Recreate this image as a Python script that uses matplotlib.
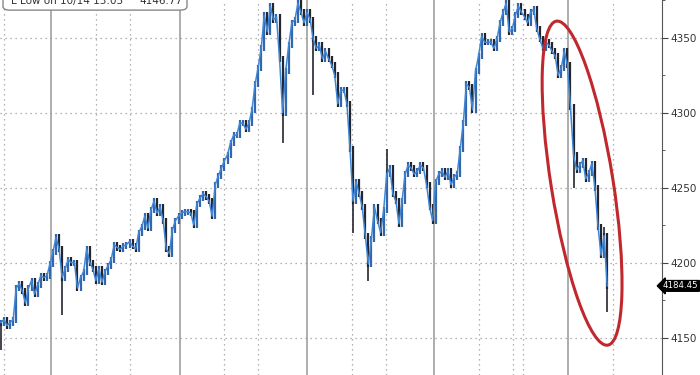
import numpy as np
import matplotlib
matplotlib.use("Agg")
import matplotlib.pyplot as plt
from matplotlib.patches import Ellipse, FancyBboxPatch
from matplotlib.transforms import ScaledTranslation, blended_transform_factory

# closing prices, one per bar
closes = [
    4160, 4162, 4158, 4160, 4162, 4183, 4186, 4181, 4173, 4183,
    4188, 4179, 4185, 4191, 4190, 4191, 4199, 4207, 4217, 4209,
    4190, 4196, 4202, 4200, 4200, 4183, 4190, 4194, 4209, 4200,
    4196, 4188, 4196, 4187, 4194, 4198, 4202, 4212, 4210, 4209,
    4211, 4212, 4214, 4211, 4209, 4220, 4224, 4231, 4223, 4235,
    4241, 4233, 4237, 4228, 4209, 4206, 4222, 4228, 4231, 4233,
    4234, 4234, 4233, 4225, 4239, 4243, 4246, 4244, 4241, 4231,
    4252, 4258, 4263, 4268, 4272, 4280, 4285,
    4285, 4293, 4293, 4289, 4293, 4302, 4319, 4330, 4343, 4365,
    4354, 4371, 4362, 4364, 4336, 4300, 4328, 4345, 4360, 4362,
    4373, 4367, 4360, 4367, 4362, 4349, 4343, 4345, 4336, 4341,
    4336, 4332, 4325, 4306, 4315, 4315, 4306, 4276, 4241, 4254,
    4246, 4237, 4218, 4199, 4216, 4237, 4228, 4220, 4235, 4259,
    4263, 4246, 4241, 4226, 4241, 4259, 4265, 4263, 4259, 4261,
    4265, 4263, 4252, 4237, 4228, 4254, 4259, 4261, 4257, 4261,
    4252, 4257, 4259, 4276, 4293, 4319, 4317, 4302, 4328, 4338,
    4351, 4347, 4347, 4347, 4343, 4349, 4360, 4367, 4373, 4354,
    4356, 4365, 4371, 4367, 4364, 4360, 4367, 4369, 4356, 4349,
    4343, 4347, 4345, 4341, 4338, 4325, 4330, 4341, 4332,
    4304, 4272, 4262, 4265, 4268, 4256, 4260, 4266, 4250, 4224,
    4205, 4218, 4184.45,
]

# long wicks that stick out of the close path
wick_bar = [0, 20, 92, 102, 115, 120, 126, 187, 197, 198]
wick_val = [4142, 4165, 4280, 4312, 4220, 4188, 4276, 4250, 4224, 4167]

# session separators (bar positions)
solid_lines = [16.3, 58.4, 99.8, 141.6, 185.3]
dotted_lines = [1, 31, 42, 72.7, 83.8, 114.5, 125.6, 156.2, 167.3, 170.6, 200]

y_ticks = [4150, 4200, 4250, 4300, 4350]
last_price = closes[-1]
legend_label = "L Low on 10/14 13:05"
legend_value = "4146.77"

fig = plt.figure(figsize=(7, 3.75), dpi=100)
ax = fig.add_axes([0, 0, 662 / 700, 1])

x = np.arange(len(closes))
c = np.array(closes, dtype=float)
prev = np.concatenate([[c[0]], c[:-1]])
lo = np.minimum(prev, c) - 2
hi = np.maximum(prev, c) + 2
cols = np.where(c >= prev, "#3266ad", "#23262e")

# grid
for gx in dotted_lines:
    ax.axvline(gx, color="#9a9a9a", lw=0.9, ls=(0, (1, 3)), zorder=0)
for gx in solid_lines:
    ax.axvline(gx, color="#a0a0a0", lw=1.2, zorder=0)
for gy in y_ticks:
    ax.axhline(gy, color="#9a9a9a", lw=0.9, ls=(0, (1, 3)), zorder=0)

# bars + wicks + close line
ax.vlines(x, lo, hi, colors=cols, lw=1.6, zorder=2)
for i, v in zip(wick_bar, wick_val):
    ax.vlines(i, min(v, c[i]), max(v, c[i]), colors="#23262e", lw=1.2, zorder=2)
ax.plot(x, c, color="#3f86d6", lw=1.1, zorder=3)

ax.set_xlim(-0.3, 215.9)
ax.set_ylim(4132.5, 4375.2)

# right axis
ax.yaxis.tick_right()
ax.set_yticks(y_ticks)
ax.set_yticks(np.arange(4125, 4376, 25), minor=True)
ax.tick_params(axis="y", which="major", length=4, color="#444", labelsize=7.5,
               labelcolor="#333", pad=2)
ax.tick_params(axis="y", which="minor", length=2.5, color="#444")
ax.set_xticks([])
for s in ["top", "left", "bottom"]:
    ax.spines[s].set_visible(False)
ax.spines["right"].set_color("#555")

# last price tag, right-aligned to the figure edge
tag_tr = blended_transform_factory(fig.transFigure, ax.transData)
ax.text(698.5 / 700, last_price, f"{last_price:.2f}", transform=tag_tr,
        ha="right", va="center", fontsize=6.2, color="white",
        bbox=dict(boxstyle="larrow,pad=0.1", fc="black", ec="black"),
        clip_on=False, zorder=6)

# red ellipse highlighting the sell-off
tr = fig.dpi_scale_trans + ScaledTranslation(189.8, 4253, ax.transData)
ax.add_patch(Ellipse((0, 0), width=0.62, height=3.28, angle=9, transform=tr,
                     fill=False, ec="#c0282d", lw=2.2, zorder=5))

# legend box (cut by top edge)
fig.patches.append(FancyBboxPatch((3 / 700, 0.973), 184 / 700, 0.06,
                                  boxstyle="round,pad=0,rounding_size=0.01",
                                  transform=fig.transFigure, fc="white",
                                  ec="#888", lw=1))
fig.text(11 / 700, 1 - 4 / 375, legend_label, fontsize=7.5, color="#333",
         va="baseline")
fig.text(183 / 700, 1 - 4 / 375, legend_value, fontsize=7.5, color="#333",
         va="baseline", ha="right")

fig.savefig("out.png", dpi=100)
